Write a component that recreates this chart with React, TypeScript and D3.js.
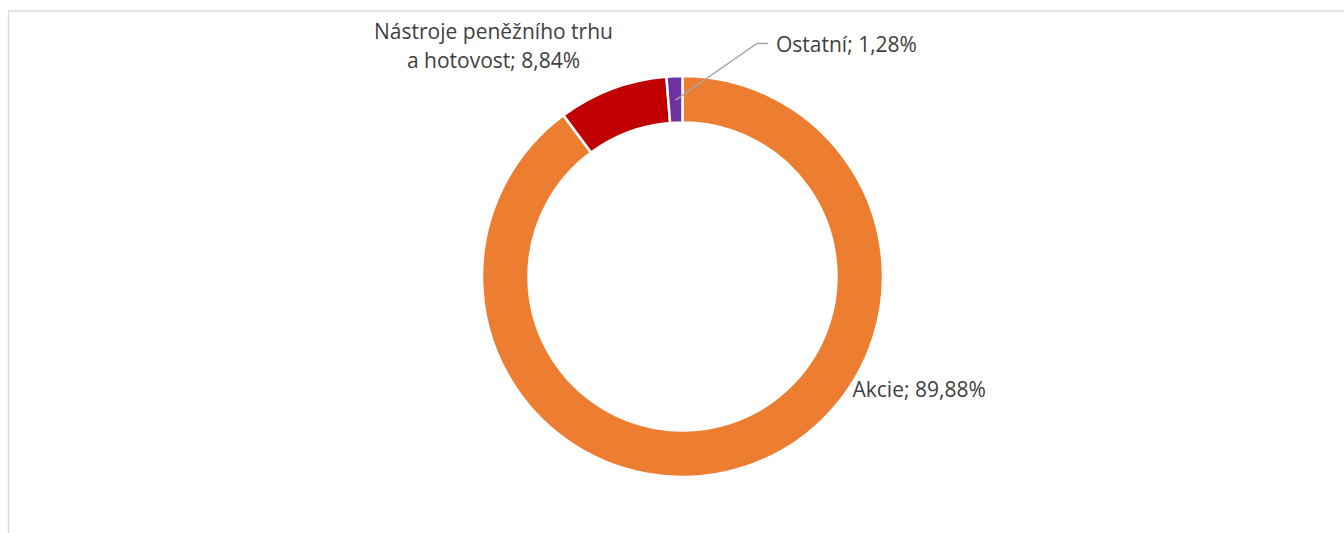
import React from 'react';
import * as d3 from 'd3';

const categories = ['Akcie', 'Nástroje peněžního trhu a hotovost', 'Ostatní'];
const values = [89.88, 8.84, 1.28];
const colors = ['#ED7D31', '#C00000', '#7030A0'];
const labelText = ['Akcie; 89,88%', ['Nástroje peněžního trhu', 'a hotovost; 8,84%'], 'Ostatní; 1,28%'];

const W = 1344;
const H = 533;
const cx = 682.5;
const cy = 276.5;
const outerR = 200.5;
const innerR = 154;

const App = () => {
  const pie = d3.pie<number>().sort(null).value(d => d);
  const arcs = pie(values);
  const arc = d3.arc<d3.PieArcDatum<number>>().innerRadius(innerR).outerRadius(outerR);

  // point at middle of a slice, at radius r
  const edge = (a: d3.PieArcDatum<number>, r: number) => {
    const m = (a.startAngle + a.endAngle) / 2;
    return [Math.sin(m) * r, -Math.cos(m) * r];
  };

  const font = { fontFamily: '"Open Sans", sans-serif', fontSize: 21, fill: '#404040' };

  // leader for the small slice
  const oth = arcs[2];
  const p0 = edge(oth, outerR - 24);
  const leaderY = -233;
  const leaderX1 = 74.5;
  const leaderX2 = 85.5;

  return (
    <svg width={W} height={H} style={{ position: 'fixed', left: 0, top: 0, background: '#fff' }}>
      <rect x={8.5} y={11} width={W} height={H} fill="#fff" stroke="#d9d9d9" strokeWidth={1.3} />
      <g transform={`translate(${cx},${cy})`}>
        {arcs.map((a, i) => (
          <path key={categories[i]} d={arc(a) || ''} fill={colors[i]} stroke="#fff" strokeWidth={2.5} />
        ))}
        <polyline
          points={`${p0[0]},${p0[1]} ${leaderX1},${leaderY} ${leaderX2},${leaderY}`}
          fill="none"
          stroke="#a6a6a6"
          strokeWidth={1.3}
        />
        <text x={leaderX2 + 8} y={leaderY + 8} {...font}>{labelText[2] as string}</text>
        <text x={170} y={120} {...font}>{labelText[0] as string}</text>
        <text textAnchor="middle" {...font}>
          {(labelText[1] as string[]).map((t, i) => (
            <tspan key={i} x={-189} y={-238 + i * 29}>{t}</tspan>
          ))}
        </text>
      </g>
    </svg>
  );
};

export default App;
